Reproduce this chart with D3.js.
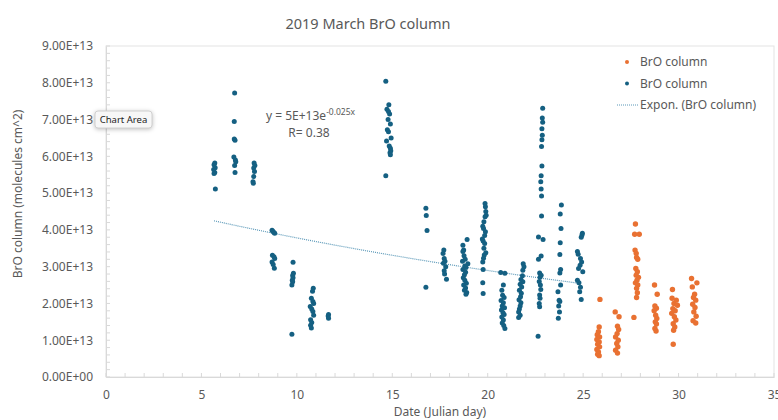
<!DOCTYPE html>
<html>
<head>
<meta charset="utf-8">
<script src="https://cdn.jsdelivr.net/npm/d3@7"></script>
<style>
  body { margin: 0; background: #fff; }
  text { font-family: "Noto Sans", "Open Sans", sans-serif; fill: #595959; }
</style>
</head>
<body>
<div id="chart"></div>
<script>
// values in units of 1E+13 molecules cm^2
const blueData = [
  [5.70,5.82],[5.66,5.77],[5.72,5.69],[5.64,5.64],[5.70,5.56],[5.66,5.53],[5.73,5.11],
  [6.74,7.72],[6.72,6.95],[6.72,6.47],[6.76,6.44],[6.70,5.98],[6.78,5.90],[6.80,5.85],[6.74,5.75],[6.76,5.56],
  [7.76,5.82],[7.80,5.75],[7.74,5.68],[7.78,5.59],[7.74,5.45],[7.70,5.31],[7.72,5.27],
  [8.70,3.99],[8.74,3.96],[8.80,3.93],[8.84,3.91],[8.72,3.31],[8.80,3.27],[8.84,3.22],[8.70,3.13],[8.76,3.06],[8.82,2.96],
  [9.80,3.12],[9.82,2.82],[9.78,2.76],[9.80,2.70],[9.76,2.63],[9.78,2.59],[9.74,2.50],[9.74,1.16],
  [10.86,2.41],[10.82,2.33],[10.76,2.14],[10.84,2.05],[10.88,2.00],[10.70,1.92],[10.78,1.85],[10.84,1.78],[10.88,1.68],[10.72,1.56],[10.78,1.48],[10.72,1.41],[10.76,1.33],
  [11.66,1.70],[11.64,1.66],[11.66,1.60],
  [14.66,8.04],[14.82,7.40],[14.72,7.28],[14.80,7.22],[14.86,7.15],[14.78,7.00],[14.90,6.88],[14.74,6.72],[14.80,6.67],[14.94,6.50],[14.70,6.42],[14.84,6.28],[14.90,6.22],[14.92,6.15],[14.88,6.10],[14.90,6.04],[14.66,5.47],
  [16.76,4.59],[16.78,4.39],[16.82,3.98],[16.76,2.44],
  [17.70,3.45],[17.66,3.36],[17.72,3.22],[17.76,3.15],[17.68,3.09],[17.80,3.00],[17.72,2.89],[17.74,2.80],[17.84,2.66],
  [18.92,3.74],[18.70,3.58],[18.74,3.45],[18.70,3.41],[18.76,3.30],[18.82,3.20],[18.68,3.15],[18.96,3.08],[18.80,3.02],[18.86,2.98],[18.70,2.92],[18.84,2.85],[18.78,2.78],[18.72,2.70],[18.80,2.63],[18.88,2.55],[18.74,2.50],[18.84,2.42],[18.78,2.36],[18.90,2.30],[18.86,2.25],
  [19.86,4.72],[19.88,4.63],[19.90,4.50],[19.92,4.40],[19.86,4.36],[19.80,4.22],[19.74,4.10],[19.78,4.04],[19.88,3.95],[19.84,3.85],[19.72,3.75],[19.76,3.70],[19.84,3.63],[19.80,3.50],[19.90,3.38],[19.82,3.32],[19.78,3.23],[19.74,3.13],[19.76,2.92],[19.74,2.56],[19.76,2.27],
  [20.68,2.84],[20.90,2.82],[20.82,2.50],[20.74,2.36],[20.78,2.22],[20.86,2.16],[20.70,2.08],[20.82,2.02],[20.76,1.93],[20.88,1.88],[20.72,1.82],[20.80,1.75],[20.86,1.70],[20.74,1.63],[20.82,1.55],[20.76,1.47],[20.84,1.40],[20.90,1.32],
  [21.86,3.08],[21.90,3.00],[21.84,2.90],[21.82,2.75],[21.74,2.65],[21.84,2.59],[21.70,2.52],[21.78,2.45],[21.66,2.36],[21.76,2.28],[21.72,2.18],[21.64,2.10],[21.74,2.02],[21.70,1.93],[21.66,1.85],[21.62,1.77],[21.70,1.68],[21.62,1.62],
  [22.88,7.31],[22.86,7.04],[22.88,6.93],[22.84,6.75],[22.86,6.57],[22.84,6.45],[22.82,6.27],[22.84,5.74],[22.80,5.47],[22.78,5.31],[22.80,5.11],[22.82,4.92],[22.82,4.38],[22.66,3.81],[22.90,3.74],[22.80,3.29],[22.66,3.20],[22.72,2.83],[22.80,2.77],[22.74,2.71],[22.70,2.60],[22.76,2.50],[22.78,2.38],[22.72,2.23],[22.74,2.14],[22.70,2.00],[22.72,1.91],[22.64,1.11],
  [23.86,4.68],[23.80,4.43],[23.84,4.04],[23.80,3.65],[23.78,3.33],[23.82,2.92],[23.78,2.83],[23.82,2.50],[23.68,2.32],[23.74,2.09],[23.78,2.05],[23.72,1.93],[23.76,1.77],[23.70,1.60],
  [24.96,3.91],[24.94,3.86],[24.90,3.80],[24.70,3.41],[24.74,3.34],[24.86,3.22],[24.92,3.13],[24.84,3.04],[24.76,2.95],[24.98,2.86],[24.70,2.63],[24.78,2.56],[24.86,2.44],[24.82,2.32],[24.90,2.11]
];

const orangeData = [
  [25.88,2.11],[25.84,1.36],[25.80,1.23],[25.74,1.15],[25.86,1.09],[25.72,1.02],[25.84,0.95],[25.76,0.89],[25.86,0.82],[25.72,0.75],[25.80,0.68],[25.76,0.62],[25.84,0.58],
  [26.68,1.77],[26.88,1.64],[26.80,1.38],[26.86,1.29],[26.78,1.18],[26.70,1.09],[26.84,1.00],[26.76,0.91],[26.82,0.82],[26.70,0.73],[26.80,0.65],
  [27.74,4.16],[27.70,3.88],[27.94,3.88],[27.72,3.45],[27.78,3.36],[27.80,3.25],[27.86,3.20],[27.76,2.95],[27.84,2.86],[27.78,2.77],[27.90,2.71],[27.82,2.63],[27.74,2.56],[27.86,2.50],[27.80,2.41],[27.84,2.29],[27.80,2.16],[27.66,1.62],
  [28.74,2.50],[28.88,2.25],[28.76,1.93],[28.84,1.87],[28.72,1.80],[28.80,1.68],[28.86,1.59],[28.78,1.50],[28.84,1.44],[28.76,1.32],[28.82,1.25],
  [29.68,2.38],[29.66,2.14],[29.88,2.09],[29.76,2.00],[29.94,1.95],[29.70,1.86],[29.82,1.80],[29.64,1.73],[29.78,1.64],[29.86,1.55],[29.72,1.45],[29.80,1.36],[29.74,1.27],[29.72,0.89],
  [30.68,2.68],[30.96,2.56],[30.72,2.45],[30.84,2.25],[30.78,2.16],[30.90,2.09],[30.74,1.98],[30.86,1.89],[30.80,1.77],[30.92,1.65],[30.76,1.53],[30.90,1.47]
];

// exponential trendline of the blue series, y = a * e^(b x)
const trendA = 4.94e13, trendB = -0.0267;
const trendRange = [5.66, 24.96];

const xTicks = [0, 5, 10, 15, 20, 25, 30, 35];
const yTicks = [0, 1e13, 2e13, 3e13, 4e13, 5e13, 6e13, 7e13, 8e13, 9e13];
const legendItems = ["BrO column", "BrO column", "Expon. (BrO column)"];

const width = 778, height = 420;
const margin = {top: 46, right: 4, bottom: 43, left: 106};
const blue = "#156082", orange = "#E97132";

const svg = d3.select("#chart").append("svg")
    .attr("width", width)
    .attr("height", height);

const x = d3.scaleLinear().domain([0, 35]).range([margin.left, width - margin.right]);
const y = d3.scaleLinear().domain([0, 9e13]).range([height - margin.bottom, margin.top]);

const fmtExp = d => {
    const s = d.toExponential(2).toUpperCase();
    return s.replace(/E([+-])(\d)$/, "E$10$2");
};

// plot area frame
svg.append("rect")
    .attr("x", x(0)).attr("y", y(9e13))
    .attr("width", x(35) - x(0)).attr("height", y(0) - y(9e13))
    .attr("fill", "none").attr("stroke", "#e3e3e3");

// minor ticks inside the plot
svg.append("g")
    .selectAll("line")
    .data(d3.range(0, 9e13 + 1, 2e12))
    .join("line")
    .attr("x1", x(0)).attr("x2", x(0) + 4)
    .attr("y1", d => y(d)).attr("y2", d => y(d))
    .attr("stroke", "#d9d9d9");
svg.append("g")
    .selectAll("line")
    .data(d3.range(0, 36, 1))
    .join("line")
    .attr("x1", d => x(d)).attr("x2", d => x(d))
    .attr("y1", y(0)).attr("y2", y(0) - 4)
    .attr("stroke", "#d9d9d9");

// axes
const yAxis = svg.append("g")
    .attr("transform", `translate(${x(0)},0)`)
    .call(d3.axisLeft(y).tickValues(yTicks).tickFormat(fmtExp).tickSize(0).tickPadding(13));
const xAxis = svg.append("g")
    .attr("transform", `translate(0,${y(0)})`)
    .call(d3.axisBottom(x).tickValues(xTicks).tickFormat(d3.format("d")).tickSize(0).tickPadding(13));
[yAxis, xAxis].forEach(a => {
    a.select(".domain").attr("stroke", "#d9d9d9");
    a.selectAll("text").attr("font-size", 12).attr("fill", "#595959")
        .style("font-family", '"Noto Sans", sans-serif');
});

// trendline
const trendLine = d3.line()
    .x(d => x(d))
    .y(d => y(trendA * Math.exp(trendB * d)));
svg.append("path")
    .datum(d3.range(trendRange[0], trendRange[1] + 0.001, 0.2))
    .attr("d", trendLine)
    .attr("fill", "none")
    .attr("stroke", "#5a98b8")
    .attr("stroke-width", 1.2)
    .attr("stroke-dasharray", "1,1");

// points
svg.append("g")
    .selectAll("circle")
    .data(blueData)
    .join("circle")
    .attr("cx", d => x(d[0]))
    .attr("cy", d => y(d[1] * 1e13))
    .attr("r", 2.5)
    .attr("fill", blue);
svg.append("g")
    .selectAll("circle")
    .data(orangeData)
    .join("circle")
    .attr("cx", d => x(d[0]))
    .attr("cy", d => y(d[1] * 1e13))
    .attr("r", 2.7)
    .attr("fill", orange);

// title and axis titles
svg.append("text")
    .attr("x", 368).attr("y", 29)
    .attr("text-anchor", "middle")
    .attr("font-size", 14.5)
    .text("2019 March BrO column");
svg.append("text")
    .attr("x", 440).attr("y", 416)
    .attr("text-anchor", "middle")
    .attr("font-size", 12)
    .text("Date (Julian day)");
svg.append("text")
    .attr("transform", "translate(22,194) rotate(-90)")
    .attr("text-anchor", "middle")
    .attr("font-size", 12)
    .text("BrO column (molecules cm^2)");

// trend equation
const eq = svg.append("text")
    .attr("x", 266).attr("y", 120)
    .attr("font-size", 12);
eq.append("tspan").text("y = 5E+13e");
eq.append("tspan").attr("dy", -5).attr("font-size", 8.5).text("-0.025x");
svg.append("text")
    .attr("x", 309).attr("y", 137)
    .attr("text-anchor", "middle")
    .attr("font-size", 12)
    .text("R= 0.38");

// legend
const legend = svg.append("g");
legendItems.forEach((name, i) => {
    const ly = 62 + i * 21.5;
    if (i < 2) {
        legend.append("circle")
            .attr("cx", 627).attr("cy", ly)
            .attr("r", 2)
            .attr("fill", i === 0 ? orange : blue);
    } else {
        legend.append("line")
            .attr("x1", 617).attr("x2", 639)
            .attr("y1", ly).attr("y2", ly)
            .attr("stroke", "#5a98b8")
            .attr("stroke-dasharray", "1,1");
    }
    legend.append("text")
        .attr("x", 640).attr("y", ly + 4)
        .attr("font-size", 12)
        .text(name);
});

// "Chart Area" hover label seen in the reference
const tip = svg.append("g");
tip.append("rect")
    .attr("x", 95).attr("y", 111)
    .attr("width", 57).attr("height", 17)
    .attr("rx", 3)
    .attr("fill", "#f7f7f7")
    .attr("stroke", "#d0d0d0")
    .style("filter", "drop-shadow(0px 1px 2px rgba(0,0,0,0.25))");
tip.append("text")
    .attr("x", 123.5).attr("y", 123)
    .attr("text-anchor", "middle")
    .attr("font-size", 9.5)
    .style("fill", "#222")
    .text("Chart Area");
</script>
</body>
</html>
